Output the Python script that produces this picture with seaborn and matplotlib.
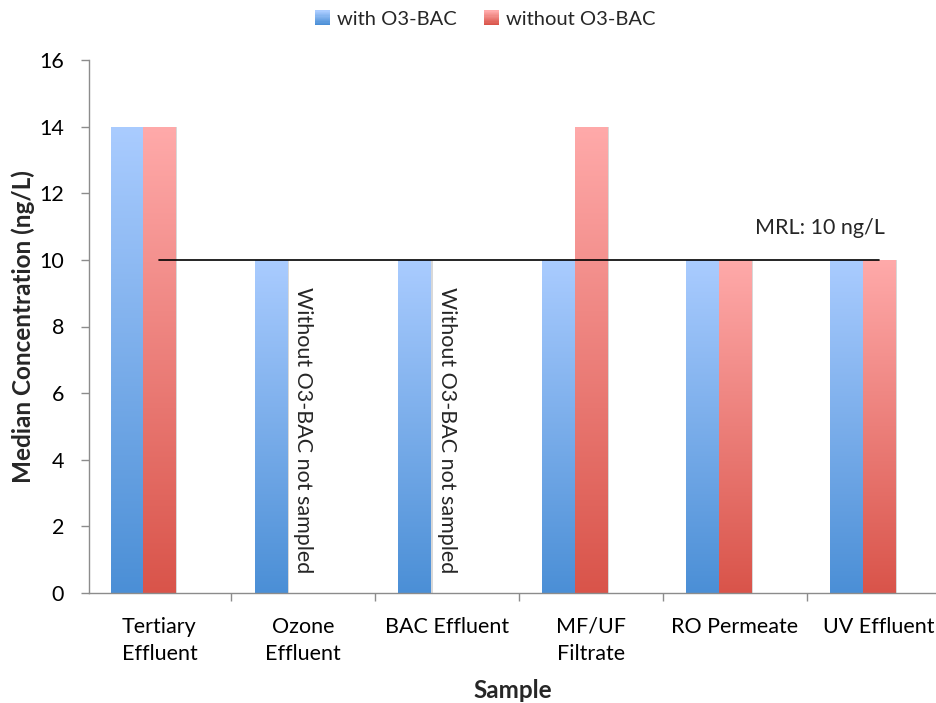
import numpy as np
import pandas as pd
import matplotlib
matplotlib.use("Agg")
import matplotlib.pyplot as plt
import seaborn as sns
from matplotlib.patches import Rectangle
from matplotlib.legend_handler import HandlerBase
from matplotlib.colors import LinearSegmentedColormap

# ---- data ----
samples = ["Tertiary\nEffluent", "Ozone\nEffluent", "BAC Effluent",
           "MF/UF\nFiltrate", "RO Permeate", "UV Effluent"]
with_o3bac = [14, 10, 10, 10, 10, 10]
without_o3bac = [14, np.nan, np.nan, 14, 10, 10]
series_names = ["with O3-BAC", "without O3-BAC", "MRL"]
mrl_value = 10
mrl_label = "MRL: 10 ng/L"
not_sampled_note = "Without O3-BAC not sampled"
yticks = [0, 2, 4, 6, 8, 10, 12, 14, 16]

df = pd.DataFrame({
    "Sample": samples * 3,
    "Series": [series_names[0]] * 6 + [series_names[1]] * 6 + [series_names[2]] * 6,
    "Value": with_o3bac + without_o3bac + [np.nan] * 6,
})

# gradient colours (top, bottom)
blue_top, blue_bot = "#aaccff", "#4b8fd6"
red_top, red_bot = "#ffaaaa", "#d9544a"

sns.set_theme(style="white")
plt.rcParams["font.family"] = ["Lato", "DejaVu Sans"]

TXT = 15.5

fig = plt.figure(figsize=(9.37, 7.03), dpi=100)
ax = fig.add_axes([89 / 937, 110 / 703, (937 - 89) / 937, (593 - 60) / 703])

sns.barplot(data=df, x="Sample", y="Value", hue="Series", hue_order=series_names,
            palette=["#7aaeea", "#ee8078", "#ffffff"], width=0.677,
            ax=ax, legend=False, errorbar=None, saturation=1)

XLIM = (-0.49, 5.405)
YLIM = (0, 16)


def gradient_fill(patch, top, bot):
    x0, y0 = patch.get_x(), patch.get_y()
    w, h = patch.get_width(), patch.get_height()
    if not np.isfinite(h) or h <= 0:
        return
    cmap = LinearSegmentedColormap.from_list("g", [bot, top])
    grad = np.linspace(0, 1, 256).reshape(-1, 1)
    # soft shadow to the right of the bar
    shadow = Rectangle((x0 + w, y0), 0.012, h, facecolor="#d8d8d8",
                       edgecolor="none", zorder=1.5)
    ax.add_patch(shadow)
    im = ax.imshow(grad, cmap=cmap, origin="lower", aspect="auto",
                   extent=(x0, x0 + w, y0, y0 + h), zorder=2,
                   interpolation="bilinear")
    im.set_clip_path(patch)
    patch.set_facecolor("none")
    patch.set_edgecolor("none")


n = len(samples)
for i, p in enumerate(ax.patches[:3 * n]):
    series = i // n
    if series == 0:
        gradient_fill(p, blue_top, blue_bot)
    elif series == 1:
        gradient_fill(p, red_top, red_bot)
    else:
        p.set_visible(False)

# MRL reference line
ax.plot([0, n - 1], [mrl_value, mrl_value], color="black", lw=1.2, zorder=3)
ax.text(4.59, 10.95, mrl_label, ha="center", va="center", fontsize=TXT)

# notes for categories without the second series
for i, v in enumerate(without_o3bac):
    if np.isnan(v):
        ax.text(i, 9.2, not_sampled_note, rotation=270, ha="center", va="top",
                fontsize=TXT)

# axes styling
for s in ["top", "right"]:
    ax.spines[s].set_visible(False)
for s in ["left", "bottom"]:
    ax.spines[s].set_color("#8c8c8c")
    ax.spines[s].set_linewidth(1.0)

ax.set_yticks(yticks)
ax.set_yticklabels([str(t) for t in yticks])
ax.tick_params(axis="y", which="major", length=6, width=1, color="#8c8c8c",
               direction="out", left=True, pad=12, labelsize=TXT, labelcolor="black")
ax.set_xticks(range(n))
ax.set_xticklabels(samples)
ax.set_xticks(np.arange(n) + 0.5, minor=True)
ax.tick_params(axis="x", which="major", length=0, pad=17, labelsize=TXT,
               labelcolor="black")
ax.tick_params(axis="x", which="minor", length=6, width=1, color="#8c8c8c",
               direction="out", bottom=True)
for lbl in ax.get_xticklabels():
    lbl.set_linespacing(1.45)

ax.set_xlabel("Sample", fontsize=17.5, fontweight="bold", labelpad=11)
ax.set_ylabel("Median Concentration (ng/L)", fontsize=17.5, fontweight="bold",
              labelpad=3)
ax.grid(False)

ax.set_autoscale_on(False)
ax.set_xlim(*XLIM)
ax.set_ylim(*YLIM)


class GradientHandler(HandlerBase):
    def __init__(self, top, bot):
        super().__init__()
        self.top, self.bot = top, bot

    def create_artists(self, legend, orig_handle, xdescent, ydescent, width,
                       height, fontsize, trans):
        cmap = LinearSegmentedColormap.from_list("g", [self.bot, self.top])
        size = height * 1.05
        x0 = -xdescent + (width - size)
        y0 = -ydescent
        strips = 12
        arts = []
        for k in range(strips):
            r = Rectangle((x0, y0 + k * size / strips), size, size / strips + 0.2,
                          facecolor=cmap(k / (strips - 1)), edgecolor="none",
                          transform=trans)
            arts.append(r)
        return arts


h1 = Rectangle((0, 0), 1, 1)
h2 = Rectangle((0, 0), 1, 1)
fig.legend([h1, h2], series_names[:2], loc="upper center",
           bbox_to_anchor=(0.516, 1.01), ncol=2, frameon=False, fontsize=14.5,
           handler_map={h1: GradientHandler(blue_top, blue_bot),
                        h2: GradientHandler(red_top, red_bot)},
           handlelength=0.9, handletextpad=0.35, columnspacing=1.2)

ax.set_xlim(*XLIM)
fig.savefig("out.png", dpi=100)
